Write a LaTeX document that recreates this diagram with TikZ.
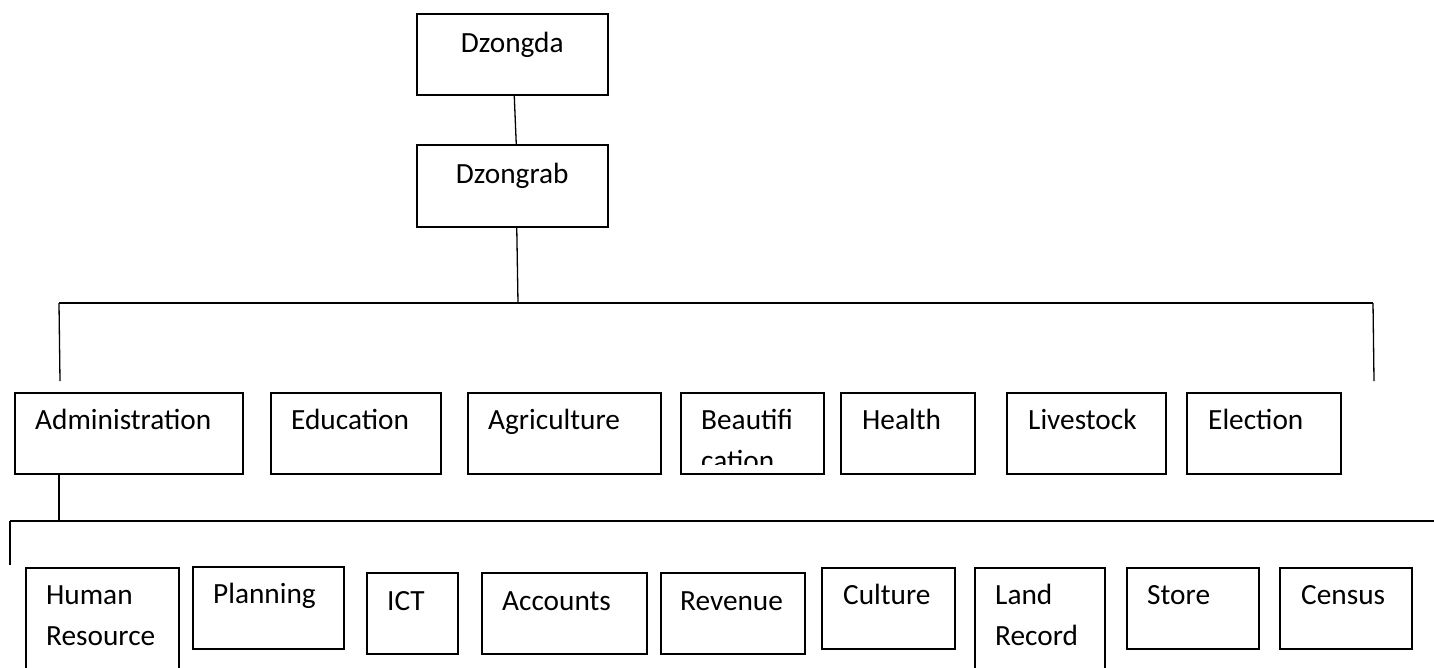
\documentclass[tikz,border=0pt]{standalone}
\usepackage{fontspec}
\setmainfont{Carlito}
\newcommand\unitfont{\fontsize{29.3}{41}\selectfont}
\newcommand\twolines[2]{\begin{tabular}[t]{@{}l@{}}#1\\#2\end{tabular}}
\tikzset{x=1pt, y=-1pt,
    unitbox/.style={draw, line width=1.5pt, anchor=north west, inner sep=0pt,
        minimum height=81pt},
    unittext/.style={anchor=base west, inner sep=0pt, font=\unitfont},
    headtext/.style={anchor=base, inner sep=0pt, font=\unitfont},
    link/.style={line width=1.3pt},
    }
\begin{document}
\begin{tikzpicture}
\useasboundingbox (0,0) rectangle (1434,667);
\fill[white] (0,0) rectangle (1434,667);
\clip (0,0) rectangle (1434,667);
% head of the dzongkhag
\node[unitbox, minimum width=191pt] (dzongda) at (416,13) {};
\node[headtext] (dzongda-t) at ([shift={(0,39)}]dzongda.north) {Dzongda};
\node[unitbox, minimum width=191pt, minimum height=82pt] (dzongrab) at (416,144) {};
\node[headtext] (dzongrab-t) at ([shift={(0,39)}]dzongrab.north) {Dzongrab};
% sectors
\node[unitbox, minimum width=228pt] (admin) at (14,392) {};
\node[unitbox, minimum width=170pt] (educ) at (270,392) {};
\node[unitbox, minimum width=193pt] (agri) at (467,392) {};
\node[unitbox, minimum width=143pt] (beaut) at (680,392) {};
\node[unitbox, minimum width=134pt] (health) at (840,392) {};
\node[unitbox, minimum width=159pt] (live) at (1006,392) {};
\node[unitbox, minimum width=154pt] (elect) at (1186,392) {};
\node[unittext] (admin-t) at ([shift={(21,37)}]admin.north west) {Administration};
\node[unittext] (educ-t) at ([shift={(21,37)}]educ.north west) {Education};
\node[unittext] (agri-t) at ([shift={(21,37)}]agri.north west) {Agriculture};
\begin{scope}
\clip (beaut.north west) rectangle ([yshift=10pt]beaut.south east);
\node[unittext] (beaut-t) at ([shift={(21,37)}]beaut.north west) {\twolines{Beautifi}{cation}};
\end{scope}
\node[unittext] (health-t) at ([shift={(22,37)}]health.north west) {Health};
\node[unittext] (live-t) at ([shift={(22,37)}]live.north west) {Livestock};
\node[unittext] (elect-t) at ([shift={(22,37)}]elect.north west) {Election};
% sections under administration
\node[unitbox, minimum width=153pt, minimum height=130pt] (hr) at (25,567) {};
\node[unitbox, minimum width=151pt, minimum height=82pt] (plan) at (192,566) {};
\node[unitbox, minimum width=91pt] (ict) at (366,572) {};
\node[unitbox, minimum width=165pt] (acc) at (481,572) {};
\node[unitbox, minimum width=144pt] (rev) at (660,572) {};
\node[unitbox, minimum width=133pt] (cult) at (821,567) {};
\node[unitbox, minimum width=130pt, minimum height=130pt] (land) at (974,567) {};
\node[unitbox, minimum width=132pt] (store) at (1126,567) {};
\node[unitbox, minimum width=132pt] (census) at (1279,567) {};
\node[unittext] (hr-t) at ([shift={(21,37)}]hr.north west) {\twolines{Human}{Resource}};
\node[unittext] (plan-t) at ([shift={(21,37)}]plan.north west) {Planning};
\node[unittext] (ict-t) at ([shift={(21,38)}]ict.north west) {ICT};
\node[unittext] (acc-t) at ([shift={(21,38)}]acc.north west) {Accounts};
\node[unittext] (rev-t) at ([shift={(20,38)}]rev.north west) {Revenue};
\node[unittext] (cult-t) at ([shift={(22,37)}]cult.north west) {Culture};
\node[unittext] (land-t) at ([shift={(21,37)}]land.north west) {\twolines{Land}{Record}};
\node[unittext] (store-t) at ([shift={(21,37)}]store.north west) {Store};
\node[unittext] (census-t) at ([shift={(22,37)}]census.north west) {Census};
% connectors
\coordinate (bus1-c) at (518,303);
\coordinate (bus1-l) at (59,303);
\coordinate (bus1-r) at (1373,303);
\coordinate (drop1-l) at (60,381);
\coordinate (drop1-r) at (1374,381);
\coordinate (bus2-c) at (59,521);
\coordinate (bus2-l) at (10,521);
\coordinate (bus2-r) at (1440,521);
\coordinate (drop2-l) at (10,565);
\draw[link] ([xshift=2pt]dzongda.south) -- ([xshift=4pt]dzongrab.north);
\draw[link] ([xshift=4.5pt]dzongrab.south) -- (bus1-c);
\draw[link] (bus1-l) -- (bus1-r);
\draw[link] (bus1-l) -- (drop1-l);
\draw[link] (bus1-r) -- (drop1-r);
\draw[link] ([xshift=45pt]admin.south west) -- (bus2-c);
\draw[link] (bus2-l) -- (bus2-r);
\draw[link] (bus2-l) -- (drop2-l);
\end{tikzpicture}
\end{document}
